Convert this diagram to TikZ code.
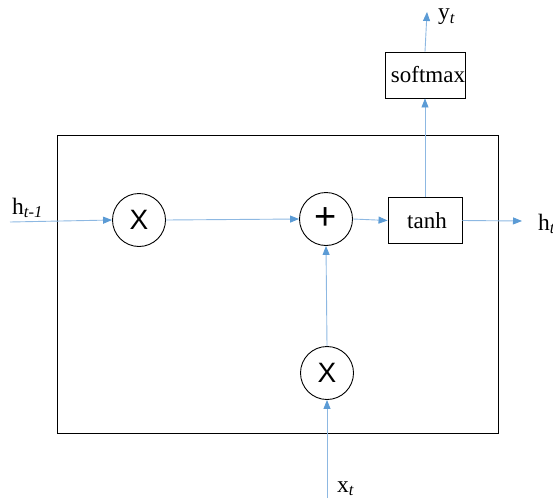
\documentclass[tikz,border=0pt]{standalone}
\usepackage{fontspec}
\setmainfont{Liberation Serif}
\newfontfamily\sansx{Liberation Sans}
\usetikzlibrary{arrows.meta}
\definecolor{lineblue}{HTML}{8DB8E2}
\definecolor{tipblue}{HTML}{5B9BD5}
\begin{document}
\begin{tikzpicture}[x=1pt,y=-1pt,
  op/.style={draw,circle,minimum size=53pt,inner sep=0pt,line width=0.9pt,font=\sansx\fontsize{28}{28}\selectfont},
  fbox/.style={draw,rectangle,minimum width=74pt,minimum height=46pt,inner sep=0pt,line width=0.9pt,font=\fontsize{23}{23}\selectfont},
  conn/.style={draw=lineblue,line width=0.9pt,-{Triangle[length=9pt,width=7pt,color=tipblue]}},
  lbl/.style={font=\fontsize{23.5}{23.5}\selectfont,inner sep=0pt}]
\useasboundingbox (0,0) rectangle (553,503);
\node[draw,rectangle,line width=0.9pt,minimum width=441pt,minimum height=298pt,inner sep=0pt] (cell) at (277.5,284) {};
\node[op] (m1) at (139,220) {X};
\node[op,font=\sansx\fontsize{38}{38}\selectfont] (plus) at (326,219) {\raisebox{1pt}{+}};
\node[op] (m2) at (327,373) {X};
\node[fbox] (tanh) at (425,220.5) {\hspace*{4pt}tanh};
\node[fbox] (soft) at (425,75) {\hspace*{6pt}softmax};
\coordinate (hin) at (10,222);
\coordinate (hout) at (522,221);
\coordinate (yout) at (427,12);
\coordinate (xin) at (327,498);
\draw[conn] (hin) -- (m1.west);
\draw[conn] (m1.east) -- (plus.west);
\draw[conn] (plus.east) -- (tanh.west);
\draw[conn] (tanh.east) -- (hout);
\draw[conn] (m2.north) -- (plus.south);
\draw[conn] (xin) -- (m2.south);
\draw[conn] (tanh.north) -- (soft.south);
\draw[conn] (soft.north) -- (yout);
\node[lbl,anchor=base west] (lh) at (12,214) {h\textsubscript{\itshape t-1}};
\node[lbl,anchor=base west] (lht) at (538,230) {h\textsubscript{\itshape t}};
\node[lbl,anchor=base west] (ly) at (438,20) {y\textsubscript{\itshape t}};
\node[lbl,anchor=base west] (lx) at (337,492) {x\textsubscript{\itshape t}};
\end{tikzpicture}
\end{document}
